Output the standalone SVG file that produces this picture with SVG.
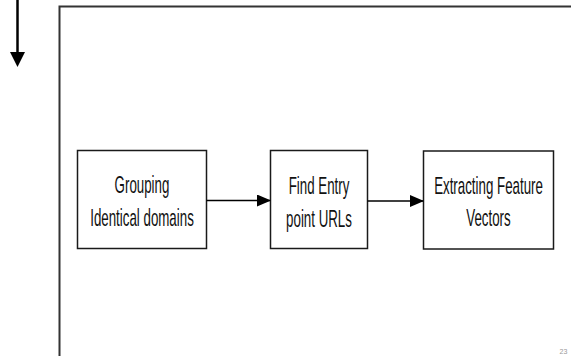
<svg xmlns="http://www.w3.org/2000/svg" width="571" height="356" viewBox="0 0 571 356">
<style>
.box{fill:#fff;stroke:#1a1a1a;stroke-width:1.5}
.lbl{font-family:"Liberation Sans",Arial,sans-serif;font-size:24px;fill:#111;text-anchor:middle}
.conn{stroke:#000;stroke-width:1.6;fill:none}
</style>
<defs>
<marker id="ah" markerUnits="userSpaceOnUse" markerWidth="14" markerHeight="12" refX="13" refY="6" orient="auto">
<path d="M0,0 L14,6 L0,12 Z" fill="#000"/>
</marker>
</defs>
<rect width="571" height="356" fill="#fff"/>
<g id="frame">
<path d="M59.5,356 V6.5 H571" fill="none" stroke="#333" stroke-width="2"/>
</g>
<g id="side-arrow">
<line x1="17.5" y1="0" x2="17.5" y2="54" stroke="#000" stroke-width="2.5"/>
<path d="M10,52 L25,52 L17.5,67 Z" fill="#000"/>
</g>
<g id="node1">
<rect class="box" x="77.5" y="150.5" width="129" height="98"/>
<text class="lbl" transform="translate(142,193) scale(0.555,1)">Grouping</text>
<text class="lbl" transform="translate(142,225.5) scale(0.555,1)">Identical domains</text>
</g>
<g id="node2">
<rect class="box" x="270.5" y="150.5" width="97" height="98"/>
<text class="lbl" transform="translate(319,194) scale(0.555,1)">Find Entry</text>
<text class="lbl" transform="translate(319,226.5) scale(0.555,1)">point URLs</text>
</g>
<g id="node3">
<rect class="box" x="423.5" y="151" width="130" height="98"/>
<text class="lbl" transform="translate(488.5,193.5) scale(0.555,1)">Extracting Feature</text>
<text class="lbl" transform="translate(488.5,226) scale(0.555,1)">Vectors</text>
</g>
<g id="connectors">
<line class="conn" x1="206.5" y1="200.5" x2="270" y2="200.5" marker-end="url(#ah)"/>
<line class="conn" x1="367.5" y1="201" x2="423" y2="201" marker-end="url(#ah)"/>
</g>
<text x="563.5" y="354" font-family="Liberation Sans,Arial,sans-serif" font-size="7" fill="#999" text-anchor="middle">23</text>
</svg>
